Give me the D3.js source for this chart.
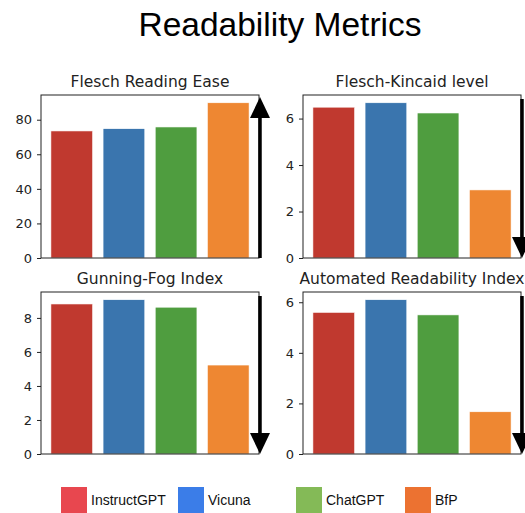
<!DOCTYPE html>
<html lang="en">
<head>
<meta charset="UTF-8">
<title>Readability Metrics</title>
<style>
  body { margin: 0; background: #fff; }
  svg { display: block; }
  .tick text { font-family: "DejaVu Sans", sans-serif; font-size: 13px; fill: #222; }
  .tick line { stroke: #222; }
  .ptitle { font-family: "DejaVu Sans", sans-serif; font-size: 15.5px; fill: #222; }
  .legend text { font-family: "Liberation Sans", Arial, sans-serif; font-size: 14px; fill: #111; }
</style>
</head>
<body>
<div id="chart"></div>
<script src="https://d3js.org/d3.v7.min.js"></script>
<script>
// --- data ---
const models = ["InstructGPT", "Vicuna", "ChatGPT", "BfP"];
const fleschEase = [73.5, 74.8, 75.8, 89.8];
const fleschKincaid = [6.49, 6.68, 6.24, 2.93];
const gunningFog = [8.82, 9.07, 8.63, 5.23];
const autoReadability = [5.60, 6.10, 5.50, 1.67];
const metricNames = ["Flesch Reading Ease", "Flesch-Kincaid level", "Gunning-Fog Index", "Automated Readability Index"];
const metricTicks = [[0, 20, 40, 60, 80], [0, 2, 4, 6], [0, 2, 4, 6, 8], [0, 2, 4, 6]];
const arrowDir = ["up", "down", "down", "down"];

const barColors = ["#c0392f", "#3a75ae", "#4f9d3f", "#ee8732"];
const legendColors = ["#e8474f", "#3b7de8", "#84ba57", "#ec7231"];

const W = 525, H = 513;
const svg = d3.select("#chart").append("svg").attr("width", W).attr("height", H);

svg.append("text")
  .attr("x", 280).attr("y", 36)
  .attr("text-anchor", "middle")
  .style("font-family", "'Liberation Sans', Arial, sans-serif")
  .style("font-size", "33.5px")
  .attr("fill", "#000")
  .text("Readability Metrics");

// panel boxes
const panels = [
  {left: 41, top: 95, bottom: 258, values: fleschEase},
  {left: 303, top: 95, bottom: 258, values: fleschKincaid},
  {left: 41, top: 292, bottom: 454, values: gunningFog},
  {left: 303, top: 292, bottom: 454, values: autoReadability}
];
const pw = 218;

panels.forEach((p, i) => {
  const g = svg.append("g");
  const x = d3.scaleLinear().domain([-0.59, 3.59]).range([p.left, p.left + pw]);
  const y = d3.scaleLinear().domain([0, d3.max(p.values) * 1.05]).range([p.bottom, p.top]);

  g.selectAll("rect.bar")
    .data(p.values)
    .join("rect")
      .attr("class", "bar")
      .attr("x", (d, j) => x(j - 0.4))
      .attr("width", x(0.8) - x(0))
      .attr("y", d => y(d))
      .attr("height", d => y(0) - y(d))
      .attr("fill", (d, j) => barColors[j])
      .attr("stroke", "#fff")
      .attr("stroke-width", 0.6);

  // frame
  g.append("rect")
    .attr("x", p.left).attr("y", p.top)
    .attr("width", pw).attr("height", p.bottom - p.top)
    .attr("fill", "none").attr("stroke", "#222").attr("stroke-width", 1);

  g.append("g")
    .attr("transform", `translate(${p.left},0)`)
    .call(d3.axisLeft(y).tickValues(metricTicks[i]).tickSize(4).tickPadding(5).tickFormat(d3.format("d")))
    .call(a => a.select(".domain").remove());

  g.append("text")
    .attr("class", "ptitle")
    .attr("x", p.left + pw / 2).attr("y", p.top - 8)
    .attr("text-anchor", "middle")
    .text(metricNames[i]);

  // direction arrow on the right edge
  const ax = p.left + pw + 1;
  const tipY = arrowDir[i] === "up" ? p.top + 2 : p.bottom;
  const tailY = arrowDir[i] === "up" ? p.bottom : p.top + 4;
  const headLen = 21, headHalf = 10;
  const baseY = arrowDir[i] === "up" ? tipY + headLen : tipY - headLen;
  g.append("line")
    .attr("x1", ax).attr("x2", ax)
    .attr("y1", tailY).attr("y2", baseY)
    .attr("stroke", "#000").attr("stroke-width", 3.5);
  g.append("path")
    .attr("d", `M${ax},${tipY}L${ax - headHalf},${baseY}L${ax + headHalf},${baseY}Z`)
    .attr("fill", "#000");
});

// legend
const legendX = [61, 178, 296, 405];
const legend = svg.append("g").attr("class", "legend");
models.forEach((m, i) => {
  legend.append("rect")
    .attr("x", legendX[i]).attr("y", 487)
    .attr("width", 26).attr("height", 26)
    .attr("fill", legendColors[i]);
  legend.append("text")
    .attr("x", legendX[i] + 30).attr("y", 505)
    .text(m);
});
</script>
</body>
</html>
